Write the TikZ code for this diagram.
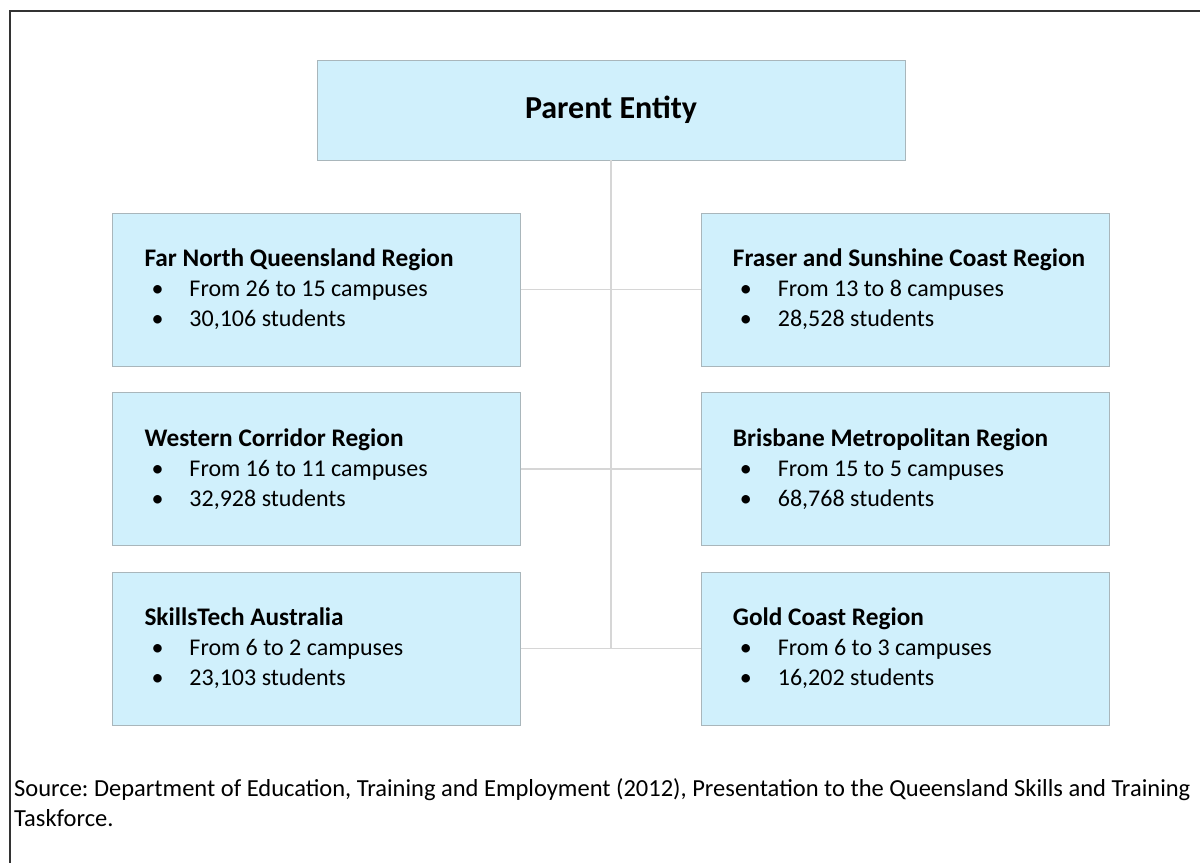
\documentclass[tikz,border=0pt]{standalone}
\usepackage{fontspec}
\setmainfont{Carlito}
\frenchspacing
\hyphenpenalty=10000
\exhyphenpenalty=10000
\usetikzlibrary{positioning}
\definecolor{boxfill}{HTML}{D0F0FC}
\definecolor{boxline}{HTML}{A9B6BB}
\definecolor{linkgray}{HTML}{D6D6D6}
\tikzset{
  region/.style={rectangle, draw=boxline, fill=boxfill, minimum width=408pt, minimum height=153pt, text width=344pt, inner xsep=32pt, align=flush left, font=\fontsize{24}{30}\selectfont},
  top/.style={rectangle, draw=boxline, fill=boxfill, minimum width=588pt, minimum height=100pt, font=\fontsize{32}{34}\selectfont\bfseries},
  link/.style={draw=linkgray, line width=1.2pt},
  frame/.style={draw=black!80, line width=2pt}
}
% region heading and one bullet line inside a region box
\newcommand{\rhead}[1]{\mbox{\fontsize{25.3}{30}\selectfont\bfseries #1}}
\newcommand{\bline}[1]{\par\hspace*{7pt}\makebox[38pt][l]{•}#1}

\begin{document}
\begin{tikzpicture}[x=1pt, y=-1pt]
  \useasboundingbox (0,0) rectangle (1200,863);
  \draw[frame] (1200,11) -- (10,11) -- (10,863);

  \node[top] (Parent) at (611,110) {Parent Entity};

  \node[region] (FarNorth) at (316.5,289.5) {\rhead{Far North Queensland Region}\bline{From 26 to 15 campuses}\bline{30,106 students}};
  \node[region] (Western) [below=26pt of FarNorth] {\rhead{Western Corridor Region}\bline{From 16 to 11 campuses}\bline{32,928 students}};
  \node[region] (Skills) [below=26pt of Western] {\rhead{SkillsTech Australia}\bline{From 6 to 2 campuses}\bline{23,103 students}};

  \node[region] (Fraser) [right=180pt of FarNorth] {\rhead{Fraser and Sunshine Coast Region}\bline{From 13 to 8 campuses}\bline{28,528 students}};
  \node[region] (Brisbane) [below=26pt of Fraser] {\rhead{Brisbane Metropolitan Region}\bline{From 15 to 5 campuses}\bline{68,768 students}};
  \node[region] (GoldCoast) [below=26pt of Brisbane] {\rhead{Gold Coast Region}\bline{From 6 to 3 campuses}\bline{16,202 students}};

  \path[link] (Parent.south) -- (Parent.south |- Skills.east);
  \path[link] (FarNorth.east) -- (Fraser.west);
  \path[link] (Western.east) -- (Brisbane.west);
  \path[link] (Skills.east) -- (GoldCoast.west);

  \node[anchor=north west, text width=1182pt, inner sep=0pt, align=flush left, font=\fontsize{24.5}{30}\selectfont] (Source) at (14,778) {Source: Department of Education, Training and Employment (2012), Presentation to the Queensland Skills and Training Taskforce.};
\end{tikzpicture}
\end{document}
